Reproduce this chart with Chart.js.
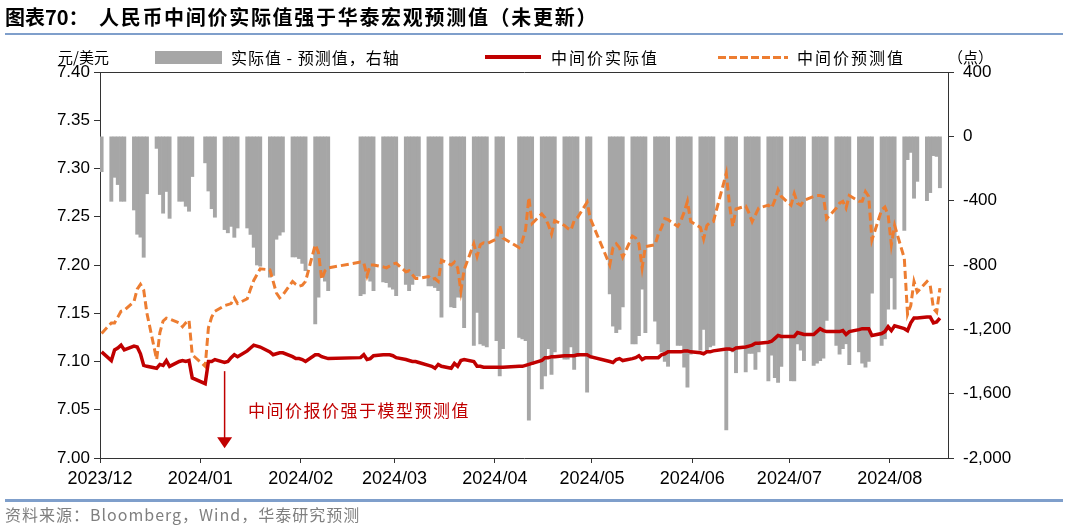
<!DOCTYPE html>
<html>
<head>
<meta charset="utf-8">
<script src="https://cdn.jsdelivr.net/npm/chart.js@4.4.1/dist/chart.umd.min.js"></script>
<style>
  html, body { margin: 0; padding: 0; background: #fff; }
  #wrap { position: relative; width: 1080px; height: 525px; overflow: hidden; font-family: "Noto Sans CJK SC", "Liberation Sans", sans-serif; }
  #chart { position: absolute; left: 0; top: 0; }
  .t { position: absolute; white-space: pre; line-height: 1; }
  .rule { position: absolute; left: 5px; width: 1058px; height: 2px; background: #7f9fcb; }
</style>
</head>
<body>
<div id="wrap">
  <canvas id="chart" width="1080" height="525"></canvas>
  <div class="t" style="left:5px;top:7px;font-size:20px;font-weight:bold;">图表70：</div>
  <div class="t" style="left:99px;top:7px;font-size:20px;font-weight:bold;letter-spacing:1.7px;">人民币中间价实际值强于华泰宏观预测值（未更新）</div>
  <div class="rule" style="top:33px;"></div>

  <div class="t" style="left:58px;top:49px;font-size:15px;">元/美元</div>
  <div class="t" style="left:948px;top:49px;font-size:15px;">（点）</div>

  <div style="position:absolute;left:155px;top:51px;width:67px;height:13px;background:#a6a6a6;"></div>
  <div class="t" style="left:231px;top:49px;font-size:16px;letter-spacing:1px;">实际值 - 预测值，右轴</div>
  <div style="position:absolute;left:485px;top:55px;width:56px;height:4px;background:#c00000;"></div>
  <div class="t" style="left:551px;top:49px;font-size:16px;letter-spacing:2px;">中间价实际值</div>
  <div style="position:absolute;left:718px;top:56px;width:70px;height:3px;background:repeating-linear-gradient(90deg,#ED7D31 0 8px,transparent 8px 11px);"></div>
  <div class="t" style="left:797px;top:49px;font-size:16px;letter-spacing:2px;">中间价预测值</div>

  <div class="t" style="left:248px;top:401px;font-size:17px;letter-spacing:1.5px;color:#c00000;">中间价报价强于模型预测值</div>

  <div class="rule" style="top:499px;height:3px;"></div>
  <div class="t" style="left:5px;top:506px;font-size:16px;color:#7f7f7f;letter-spacing:1px;">资料来源：Bloomberg，Wind，华泰研究预测</div>
</div>
<script>
// trading days (CNY fixing dates)
const dates = [
  '2023-12-01',
  '2023-12-04','2023-12-05','2023-12-06','2023-12-07','2023-12-08',
  '2023-12-11','2023-12-12','2023-12-13','2023-12-14','2023-12-15',
  '2023-12-18','2023-12-19','2023-12-20','2023-12-21','2023-12-22',
  '2023-12-25','2023-12-26','2023-12-27','2023-12-28','2023-12-29',
  '2024-01-02','2024-01-03','2024-01-04','2024-01-05',
  '2024-01-08','2024-01-09','2024-01-10','2024-01-11','2024-01-12',
  '2024-01-15','2024-01-16','2024-01-17','2024-01-18','2024-01-19',
  '2024-01-22','2024-01-23','2024-01-24','2024-01-25','2024-01-26',
  '2024-01-29','2024-01-30','2024-01-31',
  '2024-02-01','2024-02-02',
  '2024-02-05','2024-02-06','2024-02-07','2024-02-08','2024-02-09',
  '2024-02-19','2024-02-20','2024-02-21','2024-02-22','2024-02-23',
  '2024-02-26','2024-02-27','2024-02-28','2024-02-29',
  '2024-03-01',
  '2024-03-04','2024-03-05','2024-03-06','2024-03-07','2024-03-08',
  '2024-03-11','2024-03-12','2024-03-13','2024-03-14','2024-03-15',
  '2024-03-18','2024-03-19','2024-03-20','2024-03-21','2024-03-22',
  '2024-03-25','2024-03-26','2024-03-27','2024-03-28','2024-03-29',
  '2024-04-01','2024-04-02','2024-04-03',
  '2024-04-08','2024-04-09','2024-04-10','2024-04-11','2024-04-12',
  '2024-04-15','2024-04-16','2024-04-17','2024-04-18','2024-04-19',
  '2024-04-22','2024-04-23','2024-04-24','2024-04-25','2024-04-26',
  '2024-04-29','2024-04-30',
  '2024-05-06','2024-05-07','2024-05-08','2024-05-09','2024-05-10',
  '2024-05-13','2024-05-14','2024-05-15','2024-05-16','2024-05-17',
  '2024-05-20','2024-05-21','2024-05-22','2024-05-23','2024-05-24',
  '2024-05-27','2024-05-28','2024-05-29','2024-05-30','2024-05-31',
  '2024-06-03','2024-06-04','2024-06-05','2024-06-06','2024-06-07',
  '2024-06-11','2024-06-12','2024-06-13','2024-06-14',
  '2024-06-17','2024-06-18','2024-06-19','2024-06-20','2024-06-21',
  '2024-06-24','2024-06-25','2024-06-26','2024-06-27','2024-06-28',
  '2024-07-01','2024-07-02','2024-07-03','2024-07-04','2024-07-05',
  '2024-07-08','2024-07-09','2024-07-10','2024-07-11','2024-07-12',
  '2024-07-15','2024-07-16','2024-07-17','2024-07-18','2024-07-19',
  '2024-07-22','2024-07-23','2024-07-24','2024-07-25','2024-07-26',
  '2024-07-29','2024-07-30','2024-07-31',
  '2024-08-01','2024-08-02',
  '2024-08-05','2024-08-06','2024-08-07','2024-08-08','2024-08-09',
  '2024-08-12','2024-08-13','2024-08-14','2024-08-15','2024-08-16'
];

// 中间价实际值 (left axis)
const actualFix = [
  7.110,
  7.101,7.112,7.114,7.117,7.112,
  7.116,7.115,7.108,7.096,7.095,
  7.093,7.097,7.096,7.101,7.095,
  7.100,7.101,7.100,7.101,7.083,
  7.077,7.100,7.100,7.102,
  7.099,7.100,7.104,7.107,7.105,
  7.111,7.114,7.117,7.116,7.115,
  7.110,7.107,7.108,7.109,7.109,
  7.105,7.103,7.103,
  7.102,7.100,
  7.107,7.107,7.105,7.104,7.103,
  7.104,7.107,7.102,7.103,7.106,
  7.107,7.107,7.107,7.106,
  7.104,
  7.102,7.101,7.100,7.100,7.099,
  7.096,7.095,7.093,7.097,7.095,
  7.093,7.098,7.095,7.101,7.102,
  7.100,7.095,7.095,7.094,7.094,
  7.094,7.094,7.094,
  7.095,7.095,7.096,7.097,7.098,
  7.101,7.104,7.104,7.105,7.105,
  7.106,7.106,7.106,7.106,7.107,
  7.107,7.105,
  7.100,7.099,7.102,7.103,7.101,
  7.103,7.104,7.106,7.102,7.104,
  7.104,7.104,7.107,7.108,7.110,
  7.110,7.110,7.111,7.111,7.110,
  7.109,7.108,7.110,7.110,7.111,
  7.113,7.113,7.112,7.114,
  7.115,7.116,7.117,7.119,7.119,
  7.120,7.121,7.124,7.127,7.126,
  7.126,7.126,7.130,7.129,7.128,
  7.128,7.131,7.134,7.132,7.131,
  7.131,7.131,7.132,7.128,7.131,
  7.133,7.134,7.134,7.134,7.127,
  7.129,7.131,7.136,
  7.132,7.137,
  7.134,7.132,7.140,7.145,7.145,
  7.146,7.146,7.140,7.141,7.145
];

// 中间价预测值 (left axis)
const forecastFix = [
  7.129,
  7.140,7.140,7.146,7.152,7.153,
  7.162,7.175,7.180,7.174,7.150,
  7.102,7.130,7.142,7.145,7.144,
  7.140,7.136,7.140,7.143,7.107,
  7.095,7.135,7.146,7.152,
  7.158,7.159,7.160,7.166,7.160,
  7.165,7.175,7.184,7.190,7.196,
  7.195,7.183,7.171,7.166,7.169,
  7.183,7.180,7.178,
  7.179,7.183,
  7.221,7.213,7.185,7.194,7.197,
  7.203,7.202,7.189,7.200,7.200,
  7.198,7.197,7.199,7.201,
  7.202,
  7.193,7.194,7.190,7.186,7.186,
  7.188,7.185,7.186,7.183,7.205,
  7.200,7.203,7.197,7.173,7.195,
  7.222,7.209,7.221,7.223,7.222,
  7.227,7.241,7.228,
  7.218,7.225,7.237,7.270,7.243,
  7.253,7.249,7.242,7.232,7.246,
  7.241,7.238,7.236,7.246,7.249,
  7.265,7.248,
  7.200,7.218,7.222,7.218,7.208,
  7.230,7.228,7.222,7.197,7.219,
  7.221,7.232,7.239,7.248,7.247,
  7.240,7.246,7.255,7.266,7.245,
  7.239,7.227,7.241,7.244,7.245,
  7.295,7.262,7.240,7.258,
  7.261,7.254,7.245,7.252,7.259,
  7.262,7.259,7.267,7.278,7.271,
  7.262,7.274,7.264,7.262,7.267,
  7.271,7.272,7.272,7.271,7.248,
  7.259,7.264,7.266,7.259,7.272,
  7.266,7.266,7.276,7.271,7.226,
  7.257,7.260,7.252,
  7.221,7.241,
  7.207,7.149,7.158,7.183,7.172,
  7.183,7.179,7.155,7.151,7.176
];

// 实际值 - 预测值 (right axis, points)
const diffPoints = [
  -220,
  -404,-255,-300,-404,-404,
  -458,-609,-627,-752,-357,
  -75,-362,-478,-343,-510,
  -404,-404,-435,-466,-250,
  -165,-340,-450,-503,
  -580,-600,-560,-628,-570,
  -570,-610,-690,-800,-808,
  -876,-865,-640,-615,-595,
  -750,-750,-760,
  -790,-836,
  -1167,-1000,-850,-900,-960,
  -990,-980,-880,-900,-960,
  -905,-910,-938,-950,
  -990,
  -920,-960,-920,-870,-870,
  -930,-930,-940,-960,-1124,
  -1060,-1065,-1000,-1000,-1190,
  -1300,-1095,-1290,-1300,-1310,
  -1270,-1490,-1320,
  -1250,-1260,-1270,-1765,-1420,
  -1570,-1490,-1320,-1480,-1340,
  -1385,-1385,-1310,-1450,-1370,
  -1590,-1380,
  -980,-1180,-1220,-1200,-1060,
  -1290,-1290,-1240,-950,-1220,
  -1150,-1290,-1340,-1400,-1430,
  -1300,-1300,-1435,-1560,-1355,
  -1330,-1200,-1340,-1310,-1300,
  -1826,-1330,-1340,-1470,
  -1465,-1350,-1350,-1450,-1340,
  -1520,-1360,-1500,-1530,-1430,
  -1520,-1520,-1290,-1330,-1395,
  -1425,-1410,-1395,-1380,-1145,
  -1300,-1355,-1320,-1290,-1420,
  -1340,-1410,-1436,-1400,-975,
  -1300,-1260,-1075,
  -880,-1075,
  -585,-145,-100,-385,-280,
  -400,-350,-120,-125,-320
];

const monthLabels = ['2023/12','2024/01','2024/02','2024/03','2024/04','2024/05','2024/06','2024/07','2024/08'];
const axisEnd = '2024-08-19';
const arrowDate = '2024-01-08';

const DAY = 86400000;
const origin = Date.UTC(2023, 11, 1);
function dayIndex(s) {
  const p = s.split(/[-\/]/).map(Number);
  return (Date.UTC(p[0], p[1] - 1, p[2] || 1) - origin) / DAY;
}
const monthStarts = monthLabels.map(l => dayIndex(l));
const xs = dates.map(d => dayIndex(d) + 0.5);

const arrowPlugin = {
  id: 'arrow',
  afterDatasetsDraw(chart) {
    const ctx = chart.ctx;
    const x = chart.scales.x.getPixelForValue(dayIndex(arrowDate) + 0.5);
    const y0 = chart.scales.y.getPixelForValue(7.090);
    const y1 = chart.scales.y.getPixelForValue(7.010);
    ctx.save();
    ctx.strokeStyle = '#c00000';
    ctx.fillStyle = '#c00000';
    ctx.lineWidth = 1.5;
    ctx.beginPath();
    ctx.moveTo(x, y0);
    ctx.lineTo(x, y1 - 8);
    ctx.stroke();
    ctx.beginPath();
    ctx.moveTo(x - 7.5, y1 - 11);
    ctx.lineTo(x + 7.5, y1 - 11);
    ctx.lineTo(x, y1);
    ctx.closePath();
    ctx.fill();
    ctx.restore();
  }
};

const tickFont = { family: 'Liberation Sans', size: 17 };

new Chart(document.getElementById('chart'), {
  type: 'bar',
  data: {
    datasets: [
      {
        type: 'line',
        label: '中间价实际值',
        data: xs.map((x, i) => ({ x: x, y: actualFix[i] })),
        yAxisID: 'y',
        borderColor: '#c00000',
        borderWidth: 3.5,
        pointRadius: 0,
        tension: 0,
        order: 0
      },
      {
        type: 'line',
        label: '中间价预测值',
        data: xs.map((x, i) => ({ x: x, y: forecastFix[i] })),
        yAxisID: 'y',
        borderColor: '#ED7D31',
        borderWidth: 3,
        borderDash: [8, 4],
        pointRadius: 0,
        tension: 0,
        order: 1
      },
      {
        type: 'bar',
        label: '实际值 - 预测值，右轴',
        data: xs.map((x, i) => ({ x: x, y: diffPoints[i] })),
        yAxisID: 'y1',
        backgroundColor: '#a6a6a6',
        barPercentage: 1,
        categoryPercentage: 1,
        order: 2
      }
    ]
  },
  options: {
    responsive: false,
    animation: false,
    layout: { padding: { top: 72, left: 0, right: 0, bottom: 0 } },
    plugins: { legend: { display: false }, tooltip: { enabled: false } },
    scales: {
      x: {
        type: 'linear',
        position: 'bottom',
        min: 0,
        max: dayIndex(axisEnd),
        offset: false,
        afterBuildTicks: axis => { axis.ticks = monthStarts.map(v => ({ value: v })); },
        afterFit: axis => { axis.height = 67; },
        ticks: {
          autoSkip: false,
          maxRotation: 0,
          padding: 5,
          color: '#000',
          font: { family: 'Liberation Sans', size: 18 },
          callback: v => monthLabels[monthStarts.indexOf(v)]
        },
        grid: { drawOnChartArea: false, offset: false, tickLength: 5, color: '#333' },
        border: { display: true, color: '#333', width: 1 }
      },
      xTop: {
        type: 'linear',
        position: 'top',
        min: 0,
        max: 1,
        afterFit: axis => { axis.height = 0; },
        ticks: { display: false },
        grid: { display: false },
        border: { display: true, color: '#333', width: 1 }
      },
      y: {
        position: 'left',
        min: 7.0,
        max: 7.4,
        afterBuildTicks: axis => {
          axis.ticks = [7.0, 7.05, 7.1, 7.15, 7.2, 7.25, 7.3, 7.35, 7.4].map(v => ({ value: v }));
        },
        afterFit: axis => { axis.width = 100; },
        ticks: { color: '#000', font: tickFont, padding: 4, callback: v => v.toFixed(2) },
        grid: { drawOnChartArea: false, tickLength: 6, color: '#333' },
        border: { display: true, color: '#333', width: 1 }
      },
      y1: {
        position: 'right',
        min: -2000,
        max: 400,
        afterBuildTicks: axis => {
          axis.ticks = [-2000, -1600, -1200, -800, -400, 0, 400].map(v => ({ value: v }));
        },
        afterFit: axis => { axis.width = 132; },
        ticks: { color: '#000', font: tickFont, padding: 9, callback: v => v.toLocaleString('en-US') },
        grid: { drawOnChartArea: false, tickLength: 6, color: '#333' },
        border: { display: true, color: '#333', width: 1 }
      }
    }
  },
  plugins: [arrowPlugin]
});
</script>
</body>
</html>
